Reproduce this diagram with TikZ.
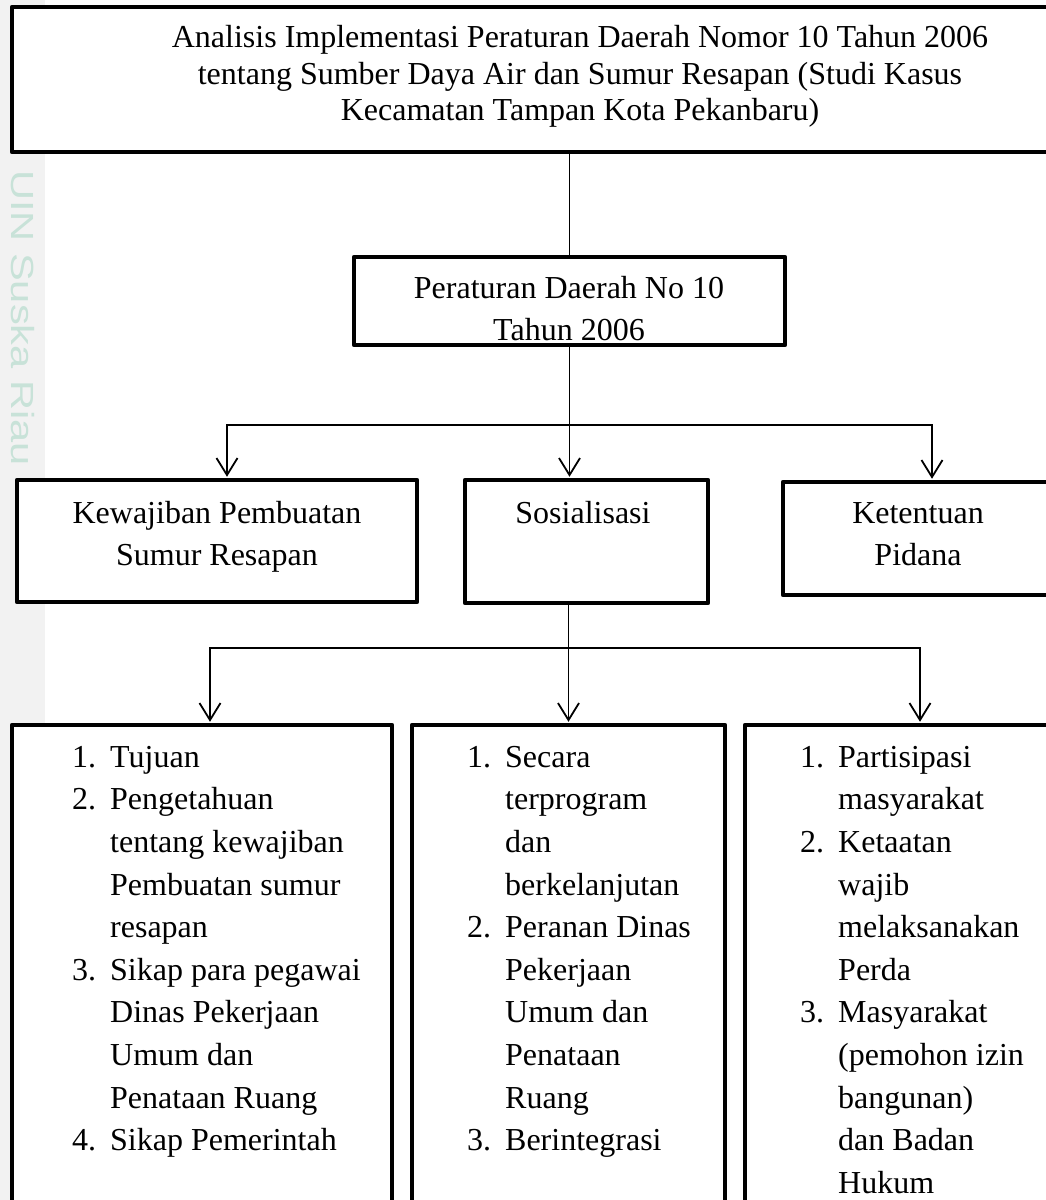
\documentclass[tikz,border=0pt]{standalone}
\usepackage{fontspec}
\setmainfont{Liberation Serif}
\newfontfamily\wmfont{Liberation Sans}
\usetikzlibrary{arrows.meta}
\pgfdeclarelayer{bglayer}
\pgfsetlayers{bglayer,main}
\newcommand\mynum[1]{\makebox[38pt][l]{#1}}
\newcommand\myind{\hspace*{38pt}}
\begin{document}
\begin{tikzpicture}[x=1pt,y=-1pt,
  box/.style={draw=black, fill=white, line width=4.5pt, line join=round, inner sep=0pt},
  txt/.style={font=\fontsize{32}{42.6}\selectfont, align=center, inner sep=0pt, anchor=north},
  lst/.style={font=\fontsize{32}{42.6}\selectfont, align=left, inner sep=0pt, anchor=north west},
  conn/.style={line width=1.8pt},
  arr/.style={conn, -{Straight Barb[length=17pt,width=21pt]}, shorten >=1pt}
]
\useasboundingbox (0,0) rectangle (1046,1200);
\begin{scope}
\clip (0,0) rectangle (1046,1200);

% boxes (shapes)
\node[box, minimum width=1136pt, minimum height=145pt] (top) at (580,79.5) {};
\node[box, minimum width=431pt, minimum height=88pt] (peraturan) at (569.5,301) {};
\node[box, minimum width=400pt, minimum height=122pt] (kew) at (217,541) {};
\node[box, minimum width=243pt, minimum height=123pt] (sos) at (586.5,541.5) {};
\node[box, minimum width=270pt, minimum height=113pt] (ket) at (918,538.5) {};
\node[box, minimum width=380pt, minimum height=515pt] (bA) at (202,982.5) {};
\node[box, minimum width=313pt, minimum height=515pt] (bB) at (568.5,982.5) {};
\node[box, minimum width=350pt, minimum height=515pt] (bC) at (920,982.5) {};

% junctions
\coordinate (j1) at (568,425);
\coordinate (j2) at (568,648);

\begin{pgfonlayer}{bglayer}
\fill[white] (0,0) rectangle (1046,1200);
% watermark strip
\fill[black!5] (0,0) rectangle (45,1200);
\node[rotate=-90, text={rgb,255:red,200;green,226;blue,216}, inner sep=0pt,
      font=\wmfont\fontsize{32}{32}\selectfont] (wm) at (23,318) {\scalebox{1.3}[1]{UIN Suska Riau}};
% connectors
\draw[conn] (top.south -| peraturan.north) -- (peraturan.north);
\draw[arr] (peraturan.south) -- (peraturan.south |- sos.north);
\draw[arr] (j1) -| ([xshift=10pt]kew.north);
\draw[arr] (j1) -| ([xshift=14pt]ket.north);
\draw[arr] (sos.south -| bB.north) -- (bB.north);
\draw[arr] (j2) -| ([xshift=8pt]bA.north);
\draw[arr] (j2) -| (bC.north);
\end{pgfonlayer}

% texts
\node[txt, font=\fontsize{32}{36.8}\selectfont] (topt) at (580,22) {\rule{0pt}{25pt}Analisis Implementasi Peraturan Daerah Nomor 10 Tahun 2006\\
tentang Sumber Daya Air dan Sumur Resapan (Studi Kasus\\
Kecamatan Tampan Kota Pekanbaru)};
\node[txt] (peraturant) at (569,273) {\rule{0pt}{25pt}Peraturan Daerah No 10\\Tahun 2006};
\node[txt] (kewt) at (217,498) {\rule{0pt}{25pt}Kewajiban Pembuatan\\Sumur Resapan};
\node[txt] (sost) at (583,498) {\rule{0pt}{25pt}Sosialisasi};
\node[txt] (kett) at (918,498) {\rule{0pt}{25pt}Ketentuan\\Pidana};

\node[lst] (bAt) at (72,742) {\rule{0pt}{25pt}\mynum{1.}Tujuan\\
\mynum{2.}Pengetahuan\\
\myind tentang kewajiban\\
\myind Pembuatan sumur\\
\myind resapan\\
\mynum{3.}Sikap para pegawai\\
\myind Dinas Pekerjaan\\
\myind Umum dan\\
\myind Penataan Ruang\\
\mynum{4.}Sikap Pemerintah};

\node[lst] (bBt) at (467,742) {\rule{0pt}{25pt}\mynum{1.}Secara\\
\myind terprogram\\
\myind dan\\
\myind berkelanjutan\\
\mynum{2.}Peranan Dinas\\
\myind Pekerjaan\\
\myind Umum dan\\
\myind Penataan\\
\myind Ruang\\
\mynum{3.}Berintegrasi};

\node[lst] (bCt) at (800,742) {\rule{0pt}{25pt}\mynum{1.}Partisipasi\\
\myind masyarakat\\
\mynum{2.}Ketaatan\\
\myind wajib\\
\myind melaksanakan\\
\myind Perda\\
\mynum{3.}Masyarakat\\
\myind (pemohon izin\\
\myind bangunan)\\
\myind dan Badan\\
\myind Hukum};
\end{scope}
\end{tikzpicture}
\end{document}
